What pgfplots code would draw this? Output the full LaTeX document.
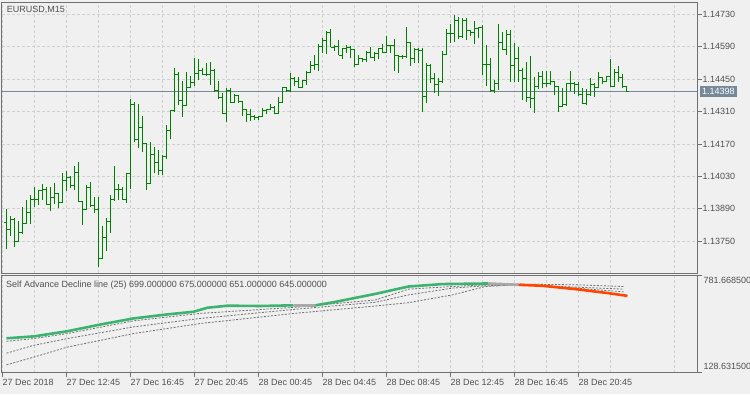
\documentclass[border=0pt]{standalone}
\usepackage{pgfplots}
\pgfplotsset{compat=1.18}
\usepackage{pgfplotstable}
\usepackage{fontspec}
\setmainfont{Liberation Sans}
\definecolor{bg}{RGB}{240,240,240}
\definecolor{framec}{RGB}{112,112,112}
\definecolor{gridc}{RGB}{208,208,208}
\definecolor{txt}{RGB}{80,80,80}
\definecolor{bargreen}{RGB}{0,128,0}
\definecolor{pricec}{RGB}{119,136,153}
\definecolor{adgreen}{RGB}{60,179,113}
\definecolor{adred}{RGB}{255,69,0}
\definecolor{adgray}{RGB}{169,169,169}
\definecolor{dashc}{RGB}{110,110,110}

\pgfplotstableread{
x o h l c
0 1.13832 1.13889 1.13715 1.13801
1 1.13801 1.13859 1.13772 1.13844
2 1.13844 1.13849 1.13726 1.13748
3 1.13748 1.13837 1.13746 1.13788
4 1.13788 1.13898 1.13781 1.13827
5 1.13827 1.13928 1.13825 1.13872
6 1.13872 1.13949 1.13825 1.13932
7 1.13932 1.13984 1.13899 1.13928
8 1.13928 1.13967 1.13906 1.13967
9 1.13967 1.13997 1.13928 1.13975
10 1.13975 1.13985 1.13908 1.13909
11 1.13909 1.13983 1.13880 1.13940
12 1.13940 1.14000 1.13911 1.13957
13 1.13957 1.13959 1.13893 1.13919
14 1.13919 1.14046 1.13919 1.14014
15 1.14014 1.14054 1.13968 1.14026
16 1.14026 1.14033 1.13978 1.13990
17 1.13990 1.14075 1.13971 1.14048
18 1.14048 1.14092 1.13919 1.13921
19 1.13921 1.13921 1.13820 1.13888
20 1.13888 1.13993 1.13885 1.13983
21 1.13983 1.14007 1.13896 1.13906
22 1.13906 1.13942 1.13870 1.13888
23 1.13888 1.13941 1.13640 1.13676
24 1.13676 1.13816 1.13672 1.13767
25 1.13767 1.13849 1.13709 1.13837
26 1.13837 1.13949 1.13787 1.13928
27 1.13928 1.14075 1.13925 1.13974
28 1.13974 1.13997 1.13928 1.13974
29 1.13974 1.13983 1.13929 1.13931
30 1.13931 1.14043 1.13916 1.14043
31 1.14043 1.14363 1.13977 1.14341
32 1.14341 1.14353 1.14178 1.14190
33 1.14190 1.14343 1.14154 1.14242
34 1.14242 1.14291 1.14137 1.14174
35 1.14174 1.14176 1.13973 1.13999
36 1.13999 1.14180 1.13999 1.14125
37 1.14125 1.14156 1.14043 1.14088
38 1.14088 1.14144 1.14037 1.14056
39 1.14056 1.14122 1.14035 1.14115
40 1.14115 1.14252 1.14104 1.14230
41 1.14230 1.14317 1.14191 1.14314
42 1.14314 1.14499 1.14309 1.14468
43 1.14468 1.14481 1.14338 1.14357
44 1.14357 1.14442 1.14288 1.14338
45 1.14338 1.14480 1.14338 1.14413
46 1.14413 1.14464 1.14410 1.14435
47 1.14435 1.14543 1.14422 1.14476
48 1.14476 1.14537 1.14446 1.14486
49 1.14486 1.14497 1.14467 1.14472
50 1.14472 1.14521 1.14465 1.14468
51 1.14468 1.14525 1.14425 1.14486
52 1.14486 1.14492 1.14396 1.14399
53 1.14399 1.14442 1.14364 1.14370
54 1.14370 1.14391 1.14298 1.14302
55 1.14302 1.14410 1.14266 1.14399
56 1.14399 1.14410 1.14348 1.14350
57 1.14350 1.14386 1.14346 1.14381
58 1.14381 1.14381 1.14348 1.14353
59 1.14353 1.14356 1.14292 1.14317
60 1.14317 1.14320 1.14264 1.14295
61 1.14295 1.14320 1.14269 1.14288
62 1.14288 1.14295 1.14273 1.14283
63 1.14283 1.14291 1.14273 1.14288
64 1.14288 1.14324 1.14288 1.14314
65 1.14314 1.14320 1.14298 1.14320
66 1.14320 1.14341 1.14317 1.14328
67 1.14328 1.14334 1.14298 1.14302
68 1.14302 1.14374 1.14302 1.14350
69 1.14350 1.14417 1.14350 1.14413
70 1.14413 1.14417 1.14396 1.14399
71 1.14399 1.14478 1.14396 1.14454
72 1.14454 1.14461 1.14420 1.14438
73 1.14438 1.14458 1.14410 1.14413
74 1.14413 1.14446 1.14410 1.14442
75 1.14442 1.14485 1.14425 1.14479
76 1.14479 1.14528 1.14479 1.14507
77 1.14507 1.14554 1.14489 1.14511
78 1.14511 1.14600 1.14486 1.14593
79 1.14593 1.14629 1.14562 1.14615
80 1.14615 1.14658 1.14557 1.14652
81 1.14652 1.14667 1.14588 1.14588
82 1.14588 1.14597 1.14572 1.14590
83 1.14590 1.14619 1.14554 1.14554
84 1.14554 1.14583 1.14536 1.14583
85 1.14583 1.14597 1.14562 1.14588
86 1.14588 1.14594 1.14540 1.14576
87 1.14576 1.14576 1.14501 1.14511
88 1.14511 1.14554 1.14511 1.14540
89 1.14540 1.14543 1.14525 1.14533
90 1.14533 1.14572 1.14525 1.14564
91 1.14564 1.14590 1.14543 1.14543
92 1.14543 1.14569 1.14528 1.14559
93 1.14559 1.14583 1.14536 1.14583
94 1.14583 1.14600 1.14564 1.14566
95 1.14566 1.14636 1.14562 1.14597
96 1.14597 1.14597 1.14563 1.14597
97 1.14597 1.14622 1.14486 1.14550
98 1.14550 1.14551 1.14478 1.14547
99 1.14547 1.14554 1.14537 1.14547
100 1.14547 1.14677 1.14540 1.14607
101 1.14607 1.14607 1.14508 1.14540
102 1.14540 1.14583 1.14518 1.14579
103 1.14579 1.14583 1.14518 1.14572
104 1.14572 1.14586 1.14307 1.14377
105 1.14377 1.14521 1.14346 1.14507
106 1.14507 1.14515 1.14432 1.14451
107 1.14451 1.14475 1.14389 1.14428
108 1.14428 1.14454 1.14378 1.14439
109 1.14439 1.14572 1.14435 1.14557
110 1.14557 1.14665 1.14554 1.14648
111 1.14648 1.14687 1.14605 1.14648
112 1.14648 1.14727 1.14609 1.14702
113 1.14702 1.14717 1.14622 1.14636
114 1.14636 1.14713 1.14626 1.14702
115 1.14702 1.14715 1.14619 1.14658
116 1.14658 1.14662 1.14636 1.14651
117 1.14651 1.14701 1.14600 1.14670
118 1.14670 1.14677 1.14626 1.14672
119 1.14672 1.14684 1.14468 1.14511
120 1.14511 1.14597 1.14420 1.14511
121 1.14511 1.14543 1.14393 1.14400
122 1.14400 1.14448 1.14389 1.14433
123 1.14433 1.14688 1.14403 1.14609
124 1.14609 1.14655 1.14576 1.14580
125 1.14580 1.14662 1.14554 1.14644
126 1.14644 1.14662 1.14439 1.14507
127 1.14507 1.14605 1.14436 1.14540
128 1.14540 1.14590 1.14439 1.14489
129 1.14489 1.14497 1.14360 1.14451
130 1.14451 1.14523 1.14353 1.14370
131 1.14370 1.14550 1.14327 1.14367
132 1.14367 1.14461 1.14302 1.14420
133 1.14420 1.14482 1.14407 1.14461
134 1.14461 1.14485 1.14410 1.14429
135 1.14429 1.14485 1.14417 1.14432
136 1.14432 1.14485 1.14425 1.14439
137 1.14439 1.14442 1.14381 1.14417
138 1.14417 1.14417 1.14307 1.14331
139 1.14331 1.14410 1.14331 1.14341
140 1.14341 1.14432 1.14335 1.14429
141 1.14429 1.14485 1.14399 1.14429
142 1.14429 1.14436 1.14384 1.14425
143 1.14425 1.14439 1.14378 1.14384
144 1.14384 1.14410 1.14341 1.14346
145 1.14346 1.14407 1.14338 1.14384
146 1.14384 1.14456 1.14378 1.14425
147 1.14425 1.14432 1.14374 1.14413
148 1.14413 1.14482 1.14413 1.14456
149 1.14456 1.14461 1.14428 1.14439
150 1.14439 1.14464 1.14436 1.14461
151 1.14461 1.14536 1.14417 1.14420
152 1.14420 1.14492 1.14417 1.14480
153 1.14480 1.14507 1.14439 1.14456
154 1.14456 1.14471 1.14413 1.14417
155 1.14417 1.14420 1.14396 1.14398
}\bars

\begin{document}
\begin{tikzpicture}[font=\fontsize{9}{10.5}\selectfont]
\useasboundingbox (0,0) rectangle (750pt,394pt);
\fill[bg] (0,0) rectangle (750pt,394pt);
% ---------------- main price panel ----------------
\begin{axis}[at={(2pt,121pt)}, anchor=south west, scale only axis,
  width=695pt, height=270.5pt,
  xmin=-1.125, xmax=172.625, ymin=1.136124, ymax=1.14781,
  axis line style={framec, line width=1pt},
  xtick={-1,15,...,143}, minor xtick={7,23,...,167}, xticklabels={},
  x tick style={draw=none},
  ytick={1.1375,1.1389,1.1403,1.1417,1.1431,1.1445,1.1459,1.1473},
  yticklabels={1.13750,1.13890,1.14030,1.14170,1.14310,1.14450,1.14590,1.14730},
  ytick pos=right, yticklabel pos=right, tick align=outside,
  major tick length=4.5pt, minor tick length=0pt,
  y tick style={framec, line width=0.8pt},
  yticklabel style={text=txt, inner sep=1pt, anchor=west},
  xmajorgrids, xminorgrids, ymajorgrids,
  major grid style={gridc, dash pattern=on 3pt off 2pt, line width=0.8pt},
  minor grid style={gridc, dash pattern=on 3pt off 2pt, line width=0.8pt},
]
\addplot[pricec, line width=0.9pt, forget plot] coordinates {(-1.125,1.14398) (172.625,1.14398)};
\addplot[draw=bargreen, color=bargreen, line width=1pt, -, forget plot, quiver={u=0, v=\thisrow{h}-\thisrow{l}}] table[x=x, y=l] {\bars};
\addplot[draw=bargreen, color=bargreen, line width=1pt, -, forget plot, quiver={u=-0.5, v=0}] table[x=x, y=o] {\bars};
\addplot[draw=bargreen, color=bargreen, line width=1pt, -, forget plot, quiver={u=0.5, v=0}] table[x=x, y=c] {\bars};
\coordinate (pl) at (axis cs:172.625,1.14398);
\end{axis}
\node[fill=pricec, text=white, inner xsep=2.5pt, inner ysep=2.2pt, anchor=west] at ([xshift=2.3pt]pl) {1.14398};
\node[anchor=base west, text=txt, inner sep=0pt] at (6.7pt,381.6pt) {EURUSD,M15};
% ---------------- indicator panel ----------------
\begin{axis}[at={(2pt,21.3pt)}, anchor=south west, scale only axis,
  width=695pt, height=97pt,
  xmin=-1.125, xmax=172.625, ymin=128.6315, ymax=781.6685,
  axis line style={framec, line width=1pt},
  xtick={-1,15,...,143}, minor xtick={7,23,...,167},
  xticklabels={27 Dec 2018,27 Dec 12:45,27 Dec 16:45,27 Dec 20:45,28 Dec 00:45,28 Dec 04:45,28 Dec 08:45,28 Dec 12:45,28 Dec 16:45,28 Dec 20:45},
  xticklabel style={anchor=north west, inner sep=0pt, text=txt, xshift=0pt, yshift=-1.5pt},
  ytick={128.6315,781.6685}, yticklabels={},
  xtick pos=bottom, ytick pos=right, tick align=outside,
  major tick length=4.5pt, minor tick length=0pt,
  tick style={framec, line width=0.8pt},
  xmajorgrids, xminorgrids,
  major grid style={gridc, dash pattern=on 3pt off 2pt, line width=0.8pt},
  minor grid style={gridc, dash pattern=on 3pt off 2pt, line width=0.8pt},
]
\addplot[dashc, line width=0.8pt, dash pattern=on 2pt off 1.5pt] coordinates {
(0,339.7) (6.75,358) (15.2,392) (31.75,477.7) (48.5,528) (72,568.8) (92.25,618.5) (100.5,691.2) (111.5,708.9) (119.75,720.5) (128,725.2) (142.25,720.5) (154.25,708.9)};
\addplot[dashc, line width=0.8pt, dash pattern=on 2pt off 1.5pt] coordinates {
(0,260.1) (6.75,312.5) (15.2,358) (31.75,437) (48.5,494) (72,555.2) (92.25,602.8) (100.5,652.5) (111.5,698) (119.75,713.7) (128,720.5) (142.25,704.8) (154.25,691.2)};
\addplot[dashc, line width=0.8pt, dash pattern=on 2pt off 1.5pt] coordinates {
(0,181.2) (6.75,232.9) (15.2,300.9) (31.75,392) (48.5,460) (72,528) (92.25,577.7) (100.5,600.1) (111.5,652.5) (119.75,708.9) (128,720.5) (142.25,698) (154.25,672.9)};
\addplot[adgreen, line width=2.6pt] coordinates {
(0,360.1) (7,373.7) (15.2,407.7) (23.5,453.2) (31.75,494) (40.25,521.2) (46.75,538.9) (50.25,566.1) (55.25,579.7) (63.5,577.7) (71.75,582.4)};
\addplot[adgray, line width=2.6pt] coordinates {(71.75,582.4) (77.25,582.4)};
\addplot[adgreen, line width=2.6pt] coordinates {
(77.25,582.4) (81.75,602.8) (92.25,659.3) (100.5,708.9) (109,725.2) (120.5,729.3)};
\addplot[adgray, line width=2.6pt] coordinates {(120.5,729.3) (128,720.5)};
\addplot[adred, line width=2.6pt] coordinates {
(128,720.5) (134,713.7) (142.25,691.2) (150.5,664) (155.25,645.7)};
\coordinate (tr) at (rel axis cs:1,1);
\coordinate (br) at (rel axis cs:1,0);
\end{axis}
\node[anchor=north west, text=txt, inner sep=0pt] at ([xshift=6.3pt,yshift=-1.8pt]tr) {781.668500};
\node[anchor=south west, text=txt, inner sep=0pt] at ([xshift=6.3pt,yshift=2.5pt]br) {128.631500};
\node[anchor=base west, text=txt, inner sep=0pt] at (6pt,106.1pt) {Self Advance Decline line (25) 699.000000 675.000000 651.000000 645.000000};
\end{tikzpicture}
\end{document}
